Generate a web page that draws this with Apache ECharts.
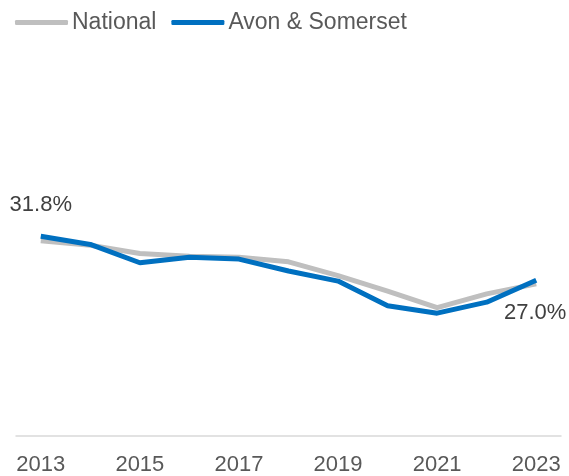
<!DOCTYPE html>
<html><head><meta charset="utf-8">
<script src="https://cdn.jsdelivr.net/npm/echarts@6/dist/echarts.min.js"></script>
<style>html,body{margin:0;padding:0;background:#fff}#c{width:569px;height:476px}</style>
</head><body><div id="c"></div>
<script>
var years = ['2013','2014','2015','2016','2017','2018','2019','2020','2021','2022','2023'];
var national = [31.3, 30.8, 29.9, 29.6, 29.5, 29.0, 27.5, 25.8, 24.0, 25.5, 26.6];
var avon = [31.8, 30.9, 28.9, 29.5, 29.3, 28.0, 26.9, 24.2, 23.4, 24.6, 27.0];

var avonData = avon.map(function(v, i){
  if (i === 0) return {value: v, label: {show: true, position: 'top', distance: 20}};
  if (i === avon.length - 1) return {value: v, label: {show: true, position: 'bottom', distance: 22, offset: [-1, 0]}};
  return v;
});

var chart = echarts.init(document.getElementById('c'));
chart.setOption({
  animation: false,
  textStyle: {fontFamily: 'Liberation Sans, Arial, sans-serif'},
  legend: {
    left: 10, top: 6,
    itemWidth: 53, itemHeight: 5, itemGap: 15,
    icon: 'roundRect',
    textStyle: {fontSize: 23, color: '#595959', padding: [0,0,0,-1]},
    data: ['National', 'Avon & Somerset']
  },
  grid: {left: 16, right: 8, top: 161, bottom: 40},
  xAxis: {
    type: 'category', data: years, boundaryGap: true,
    axisLine: {lineStyle: {color: '#d9d9d9', width: 1.5}},
    axisTick: {show: false},
    axisLabel: {interval: 1, fontSize: 22, color: '#595959', margin: 18}
  },
  yAxis: {type: 'value', min: 10, max: 40, show: false, splitLine: {show: false}},
  series: [
    {name: 'National', type: 'line', data: national, symbol: 'none',
     lineStyle: {color: '#BFBFBF', width: 5}, itemStyle: {color: '#BFBFBF'}},
    {name: 'Avon & Somerset', type: 'line', data: avonData, symbol: 'circle', symbolSize: 0, showSymbol: true,
     lineStyle: {color: '#0070C0', width: 5}, itemStyle: {color: '#0070C0'},
     label: {show: false, fontSize: 22, color: '#404040', formatter: function(p){return p.value.toFixed(1) + '%';}}}
  ]
});
</script></body></html>
